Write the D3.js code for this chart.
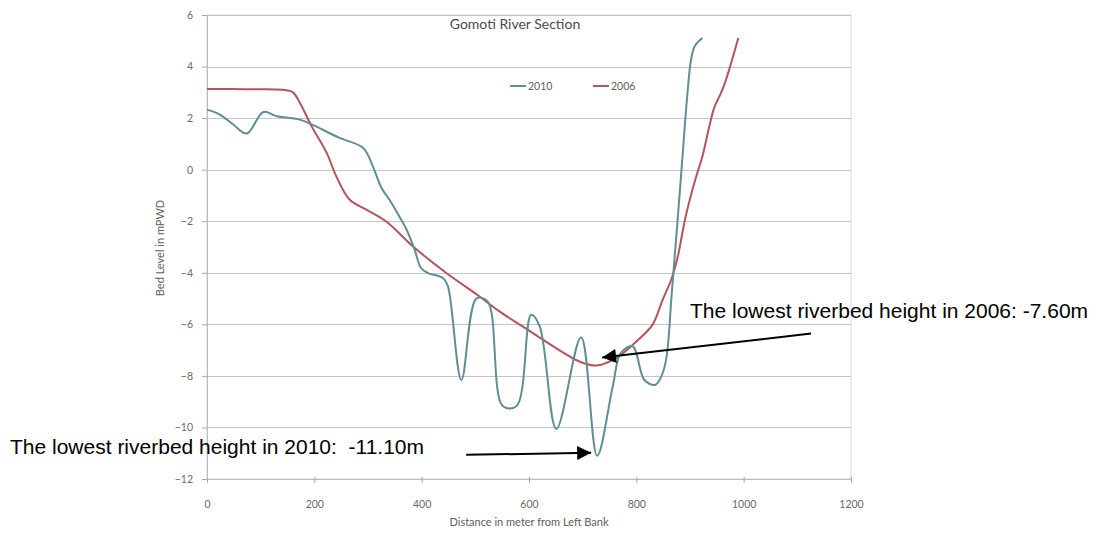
<!DOCTYPE html>
<html>
<head>
<meta charset="utf-8">
<script src="https://cdn.jsdelivr.net/npm/d3@7"></script>
<style>
  html, body { margin: 0; padding: 0; background: #fff; }
  svg { display: block; }
</style>
</head>
<body>
<svg id="chart" width="1100" height="537"></svg>
<script>
// Cross-section survey: distance from left bank (m) and bed level (mPWD)
const distance2010 = [0, 24, 49, 74, 105, 130, 173, 247, 291, 309, 325, 340, 353, 372, 387, 399, 412, 440, 449, 474, 502, 523, 551, 577, 604, 620, 651, 697, 727, 756, 771, 793, 815, 835, 847, 856, 866, 876, 886, 895, 902, 909, 923];
const level2010    = [2.33, 2.14, 1.75, 1.40, 2.24, 2.07, 1.94, 1.23, 0.84, 0.13, -0.70, -1.17, -1.62, -2.33, -3.11, -3.82, -4.01, -4.21, -4.53, -8.16, -5.00, -5.11, -9.17, -9.17, -5.63, -6.08, -10.06, -6.50, -11.10, -8.41, -7.12, -6.85, -8.16, -8.35, -8.0, -7.3, -4.8, -2.2, 0.5, 2.9, 4.27, 4.80, 5.11];

const distance2006 = [0, 70, 141, 160, 173, 195, 223, 241, 266, 297, 334, 384, 446, 508, 545, 588, 651, 694, 725, 762, 806, 830, 849, 865, 877, 890, 903, 914, 923, 936, 945, 955, 964, 973, 990];
const level2006    = [3.13, 3.12, 3.10, 3.00, 2.60, 1.68, 0.65, -0.26, -1.17, -1.55, -2.01, -2.98, -4.01, -4.92, -5.50, -6.08, -6.93, -7.44, -7.60, -7.31, -6.55, -6.02, -5.05, -4.27, -3.40, -2.00, -0.90, -0.10, 0.50, 1.68, 2.40, 2.85, 3.30, 3.88, 5.11];

const seriesNames = ["2010", "2006"];
const xTicks = [0, 200, 400, 600, 800, 1000, 1200];
const yTicks = [6, 4, 2, 0, -2, -4, -6, -8, -10, -12];

// Lowest points called out on the chart
const lowestNames  = ["2006", "2010"];
const lowestDist   = [725, 727];
const lowestLevel  = [-7.60, -11.10];
const lowestLabels = ["The lowest riverbed height in 2006: -7.60m", "The lowest riverbed height in 2010:  -11.10m"];

const colors = { "2010": "#5f8f96", "2006": "#b8525c" };

const svg = d3.select("#chart");
const plot = { left: 207, right: 851, top: 15, bottom: 479 };

const x = d3.scaleLinear().domain([0, 1200]).range([plot.left, plot.right]);
const y = d3.scaleLinear().domain([-12, 6]).range([plot.bottom, plot.top]);

const tickFont = "Lato, 'Open Sans', sans-serif";

// plot frame
svg.append("rect")
  .attr("x", plot.left).attr("y", plot.top)
  .attr("width", plot.right - plot.left).attr("height", plot.bottom - plot.top)
  .attr("fill", "none").attr("stroke", "#d4d4d4").attr("stroke-width", 1);

// horizontal gridlines
svg.append("g").selectAll("line")
  .data(yTicks.filter(v => v !== -12))
  .join("line")
  .attr("x1", plot.left).attr("x2", plot.right)
  .attr("y1", d => Math.round(y(d)) + 0.5).attr("y2", d => Math.round(y(d)) + 0.5)
  .attr("stroke", "#c6c6c6").attr("stroke-width", 1);

// axes
const xAxis = svg.append("g")
  .attr("transform", `translate(0,${plot.bottom})`)
  .call(d3.axisBottom(x).tickValues(xTicks).tickSize(4).tickPadding(18).tickFormat(d3.format("d")));
const yAxis = svg.append("g")
  .attr("transform", `translate(${plot.left},0)`)
  .call(d3.axisLeft(y).tickValues(yTicks).tickSize(5).tickPadding(9).tickFormat(d3.format("d")));

[xAxis, yAxis].forEach(g => {
  g.select(".domain").attr("stroke", "#bdbdbd");
  g.selectAll(".tick line").attr("stroke", "#a8a8a8");
  g.selectAll(".tick text").attr("fill", "#6a6a6a").style("font-family", tickFont).style("font-size", "10.5px");
});
xAxis.selectAll(".tick line").attr("y1", -2);

// axis titles
svg.append("text")
  .attr("x", (plot.left + plot.right) / 2).attr("y", 526)
  .attr("text-anchor", "middle")
  .attr("fill", "#606060").style("font-family", tickFont).style("font-size", "11px")
  .text("Distance in meter from Left Bank");

svg.append("text")
  .attr("transform", `translate(164,${(plot.top + plot.bottom) / 2 + 1}) rotate(-90)`)
  .attr("text-anchor", "middle")
  .attr("fill", "#606060").style("font-family", tickFont).style("font-size", "11px")
  .text("Bed Level in mPWD");

// chart title
svg.append("text")
  .attr("x", 515).attr("y", 29)
  .attr("text-anchor", "middle")
  .attr("fill", "#4a4a4a").style("font-family", tickFont).style("font-size", "14px")
  .text("Gomoti River Section");

// series lines
const line = d3.line()
  .x(d => x(d[0])).y(d => y(d[1]))
  .curve(d3.curveCatmullRom.alpha(0.5));

const series = [
  { name: seriesNames[0], pts: d3.zip(distance2010, level2010) },
  { name: seriesNames[1], pts: d3.zip(distance2006, level2006) }
];

svg.append("g").selectAll("path")
  .data(series.slice().reverse())
  .join("path")
  .attr("d", d => line(d.pts))
  .attr("fill", "none")
  .attr("stroke", d => colors[d.name])
  .attr("stroke-width", 2)
  .attr("stroke-linejoin", "round");

// legend
const legend = svg.append("g").attr("transform", "translate(510,86)");
const legendItem = legend.selectAll("g")
  .data(seriesNames)
  .join("g")
  .attr("transform", (d, i) => `translate(${i * 83},0)`);
legendItem.append("line")
  .attr("x1", 0).attr("x2", 16).attr("y1", 0).attr("y2", 0)
  .attr("stroke", d => colors[d]).attr("stroke-width", 2);
legendItem.append("text")
  .attr("x", 18).attr("y", 3.5)
  .attr("fill", "#606060").style("font-family", tickFont).style("font-size", "10.5px")
  .text(d => d);

// callouts for the lowest bed levels
const defs = svg.append("defs");
defs.append("marker")
  .attr("id", "arrowhead")
  .attr("viewBox", "0 0 10 10")
  .attr("refX", 10).attr("refY", 5)
  .attr("markerWidth", 9).attr("markerHeight", 7)
  .attr("markerUnits", "strokeWidth")
  .attr("orient", "auto")
  .append("path").attr("d", "M0,0 L10,5 L0,10 Z").attr("fill", "#000");

// tip offsets from the point and tail offsets from the tip, in pixels
const tipOffset  = [[6, -8], [-6, -3]];
const tailOffset = [[209, -24], [-125, 2]];
const labelPos   = [[690, 318], [10, 454]];

lowestNames.forEach((name, i) => {
  const tx = x(lowestDist[i]) + tipOffset[i][0];
  const ty = y(lowestLevel[i]) + tipOffset[i][1];
  svg.append("line")
    .attr("x1", tx + tailOffset[i][0]).attr("y1", ty + tailOffset[i][1])
    .attr("x2", tx).attr("y2", ty)
    .attr("stroke", "#000").attr("stroke-width", 2)
    .attr("marker-end", "url(#arrowhead)");
  svg.append("text")
    .attr("x", labelPos[i][0]).attr("y", labelPos[i][1])
    .attr("fill", "#000")
    .style("font-family", "'Liberation Sans', Arial, sans-serif")
    .style("font-size", "21px")
    .style("white-space", "pre")
    .attr("xml:space", "preserve")
    .text(lowestLabels[i]);
});
</script>
</body>
</html>
